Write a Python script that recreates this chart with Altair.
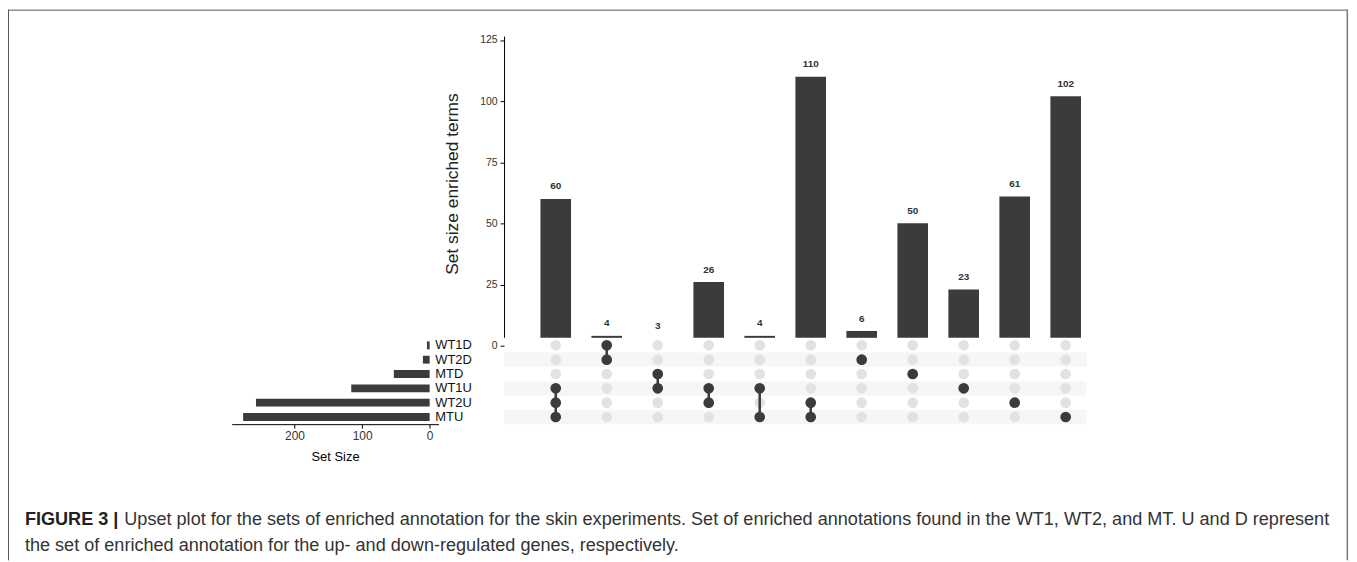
import altair as alt
import pandas as pd

# ---------------- data ----------------
sets = ["WT1D", "WT2D", "MTD", "WT1U", "WT2U", "MTU"]
set_sizes = [4, 10, 53, 116, 257, 276]

combo_ids = ["c01", "c02", "c03", "c04", "c05", "c06", "c07", "c08", "c09", "c10", "c11"]
combo_counts = [60, 4, 3, 26, 4, 110, 6, 50, 23, 61, 102]
combo_members = [
    ["WT1U", "WT2U", "MTU"],
    ["WT1D", "WT2D"],
    ["MTD", "WT1U"],
    ["WT1U", "WT2U"],
    ["WT1U", "MTU"],
    ["WT2U", "MTU"],
    ["WT2D"],
    ["MTD"],
    ["WT1U"],
    ["WT2U"],
    ["MTU"],
]

count_ticks = [0, 25, 50, 75, 100, 125]
size_ticks = [0, 100, 200]

caption_bold = "FIGURE 3 |"
caption_line1 = ("Upset plot for the sets of enriched annotation for the skin experiments. "
                 "Set of enriched annotations found in the WT1, WT2, and MT. U and D represent")
caption_line2 = "the set of enriched annotation for the up- and down-regulated genes, respectively."

# ---------------- tables ----------------
BASE = 3.2  # visible bar baseline in the original
df_bar = pd.DataFrame({"combo": combo_ids, "count": combo_counts})
df_bar["ytop"] = df_bar["count"].clip(lower=BASE)

dot_rows = []
for cid, mem in zip(combo_ids, combo_members):
    for s in sets:
        dot_rows.append({"combo": cid, "set": s, "member": s in mem})
df_dots = pd.DataFrame(dot_rows)

line_rows = []
for cid, mem in zip(combo_ids, combo_members):
    idx = [sets.index(m) for m in mem]
    if len(idx) > 1:
        line_rows.append({"combo": cid, "i0": min(idx), "i1": max(idx)})
df_lines = pd.DataFrame(line_rows)

df_sets = pd.DataFrame({"set": sets, "size": set_sizes})
df_stripes = pd.DataFrame({"set": [s for i, s in enumerate(sets) if i % 2 == 1]})
one = pd.DataFrame({"k": [0]})

# ---------------- layout ----------------
W, H = 1349, 554
FONT = "Liberation Sans"
DARK = "#3b3b3b"
GRAY = "#e2e2e2"
STRIPE = "#f6f6f6"
CAP = 18.2

ROW_RANGE = [330.5, 417.0]
xs = alt.Scale(domain=combo_ids, range=[525.35, 1089.65], paddingInner=0.4, paddingOuter=0.2)
ys_count = alt.Scale(domain=[0, 125], range=[338.0, 30.5], nice=False, zero=False)
ys_set = alt.Scale(domain=sets, range=ROW_RANGE, paddingInner=0.45, paddingOuter=0.225)
ys_stripe = alt.Scale(domain=sets, range=ROW_RANGE, paddingInner=0, paddingOuter=0)
ys_idx = alt.Scale(domain=[-0.5, 5.5], range=ROW_RANGE, nice=False, zero=False)
xs_size = alt.Scale(domain=[-13, 293], range=[433.0, 225.0], nice=False, zero=False)

X = alt.X("combo:N", scale=xs, axis=None)

stripes = alt.Chart(df_stripes).mark_rect(color=STRIPE).encode(
    y=alt.Y("set:N", scale=ys_stripe, axis=None),
    x=alt.value(499), x2=alt.value(1085),
)

bars = alt.Chart(df_bar).mark_bar(color=DARK).encode(
    x=X,
    y=alt.Y("ytop:Q", scale=ys_count,
            axis=alt.Axis(orient="left", offset=-499, values=count_ticks, domain=False,
                          grid=False, ticks=True, tickSize=4, tickColor="#000",
                          labelFontSize=10.5, labelPadding=3, labelColor="#333",
                          title="Set size enriched terms", titleFontSize=17.5,
                          titleFontWeight="normal", titleColor="#222",
                          titleX=-47, titleY=175, titleBaseline="alphabetic",
                          titleAngle=270)),
    y2=alt.datum(BASE),
)

axis_line = alt.Chart(one).mark_rule(color="#000", strokeWidth=1).encode(
    x=alt.value(499.5),
    y=alt.YDatum(126.4, scale=ys_count, axis=None),
    y2=alt.datum(BASE),
)

labels = alt.Chart(df_bar).mark_text(dy=-12.5, baseline="middle", fontSize=10,
                                      fontWeight="bold", color="#333", font=FONT).encode(
    x=X,
    y=alt.Y("count:Q", scale=ys_count, axis=None),
    text="count:Q",
)

gray_dots = alt.Chart(df_dots).mark_circle(size=115, opacity=1, color=GRAY).encode(
    x=X, y=alt.Y("set:N", scale=ys_set, axis=None),
)

links = alt.Chart(df_lines).mark_rule(color=DARK, strokeWidth=2.5).encode(
    x=X,
    y=alt.Y("i0:Q", scale=ys_idx, axis=None),
    y2="i1:Q",
)

dark_dots = alt.Chart(df_dots).transform_filter("datum.member").mark_circle(
    size=115, opacity=1, color=DARK).encode(
    x=X, y=alt.Y("set:N", scale=ys_set, axis=None),
)

set_bars = alt.Chart(df_sets).mark_bar(color=DARK).encode(
    x=alt.X("size:Q", scale=xs_size,
            axis=alt.Axis(orient="bottom", offset=417 - H, values=size_ticks, grid=False,
                          domainColor="#000", tickColor="#000", tickSize=4,
                          labelFontSize=12, labelPadding=2, labelColor="#333",
                          title="Set Size", titleFontSize=13, titleFontWeight="normal",
                          titleColor="#000", titlePadding=10)),
    x2=alt.datum(0),
    y=alt.Y("set:N", scale=ys_set,
            axis=alt.Axis(orient="right", offset=425 - W, domain=False, ticks=False,
                          grid=False, labelPadding=4.3, labelFontSize=13,
                          labelColor="#111", title=None)),
)

border_left = alt.Chart(one).mark_rule(color="#555", strokeWidth=1).encode(
    x=alt.value(0.5), y=alt.value(0), y2=alt.value(H))
border_top = alt.Chart(one).mark_rule(color="#555", strokeWidth=1).encode(
    x=alt.value(0), x2=alt.value(1348), y=alt.value(0.5))
border_right = alt.Chart(one).mark_rule(color="#777", strokeWidth=1.5).encode(
    x=alt.value(1347.3), y=alt.value(0), y2=alt.value(H))

cap_b = alt.Chart(one).mark_text(align="left", baseline="alphabetic", fontSize=CAP,
                                  fontWeight="bold", color="#222", font=FONT).encode(
    x=alt.value(17), y=alt.value(518), text=alt.value(caption_bold))
cap_1 = alt.Chart(one).mark_text(align="left", baseline="alphabetic", fontSize=CAP,
                                  color="#333", font=FONT).encode(
    x=alt.value(117), y=alt.value(518), text=alt.value(caption_line1))
cap_2 = alt.Chart(one).mark_text(align="left", baseline="alphabetic", fontSize=CAP,
                                  color="#333", font=FONT).encode(
    x=alt.value(17), y=alt.value(545), text=alt.value(caption_line2))

chart = alt.layer(
    border_left, border_top, border_right,
    stripes, bars, axis_line, labels, gray_dots, links, dark_dots, set_bars,
    cap_b, cap_1, cap_2,
).resolve_scale(x="independent", y="independent").properties(
    width=W, height=H, padding=0, autosize=alt.AutoSizeParams(type="none"),
).configure_view(stroke=None).configure_axis(labelFont=FONT, titleFont=FONT)

chart.save("out.html", embed_options={"renderer": "svg", "actions": False})
